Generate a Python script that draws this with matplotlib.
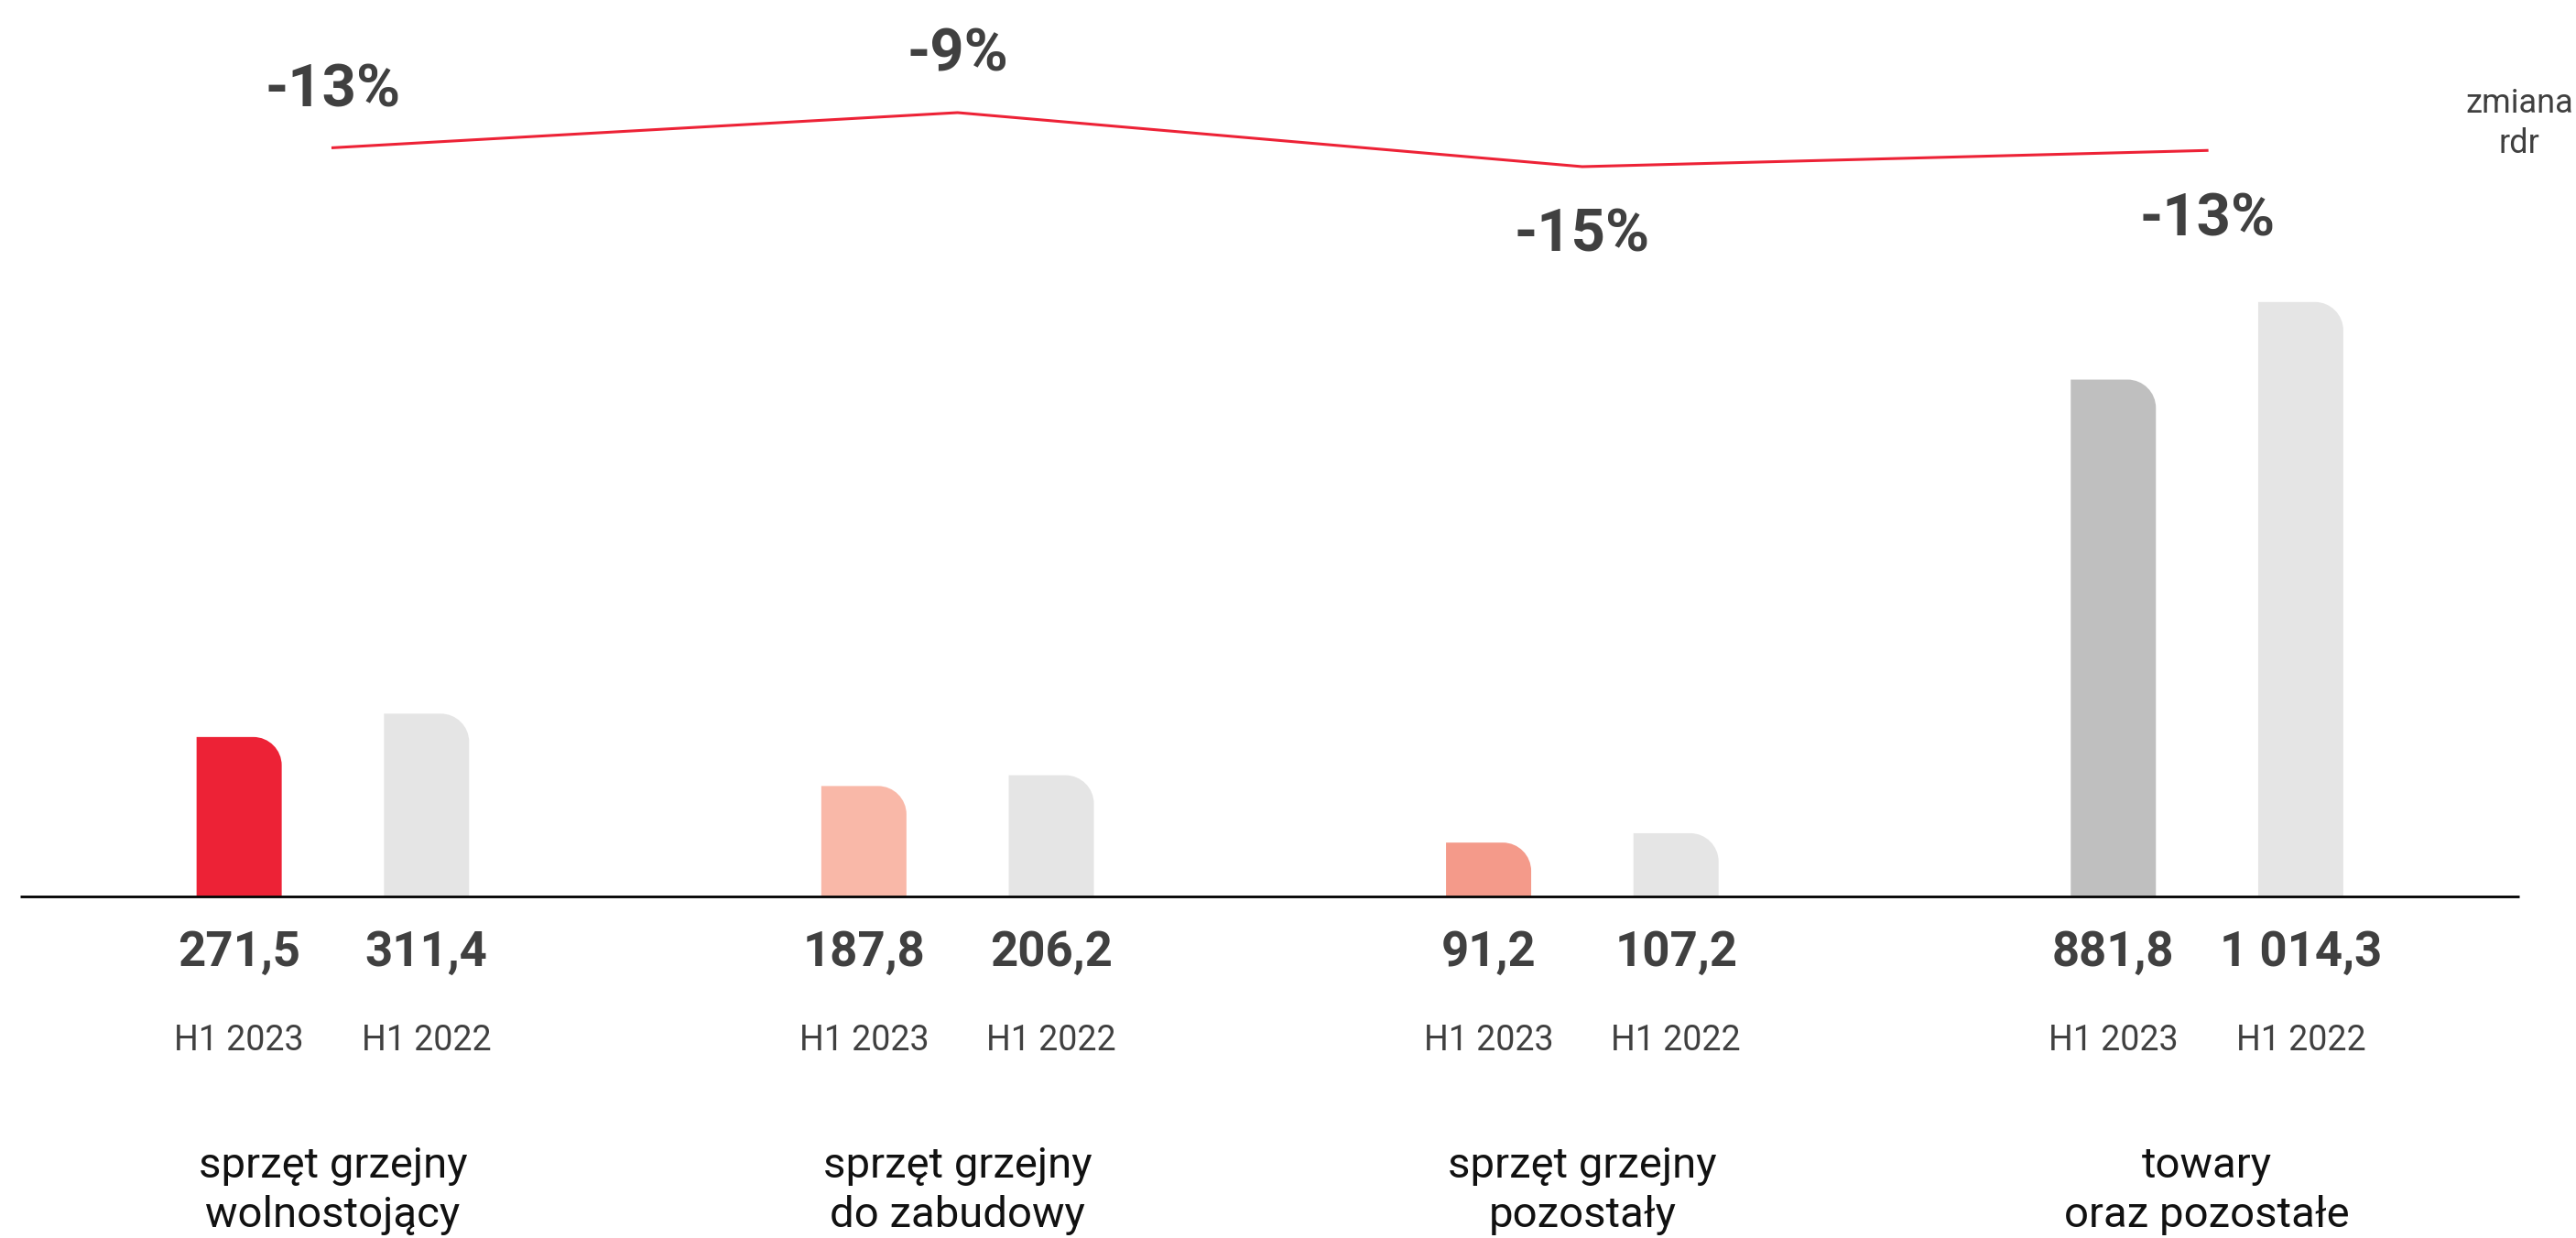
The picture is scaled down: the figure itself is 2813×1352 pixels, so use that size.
import matplotlib
matplotlib.use("Agg")
import matplotlib.pyplot as plt
import numpy as np
from matplotlib.path import Path
from matplotlib.patches import PathPatch

categories = ["sprzęt grzejny\nwolnostojący", "sprzęt grzejny\ndo zabudowy",
              "sprzęt grzejny\npozostały", "towary\noraz pozostałe"]
periods = ["H1 2023", "H1 2022"]
values_2023 = [271.5, 187.8, 91.2, 881.8]
values_2022 = [311.4, 206.2, 107.2, 1014.3]
labels_2023 = ["271,5", "187,8", "91,2", "881,8"]
labels_2022 = ["311,4", "206,2", "107,2", "1 014,3"]
change_yoy = [-12.8, -8.9, -14.9, -13.1]
change_labels = ["-13%", "-9%", "-15%", "-13%"]

colors_2023 = ["#ED2236", "#F9B8A8", "#F49A8A", "#BFBFBF"]
color_2022 = "#E5E5E5"
text_color = "#404040"

plt.rcParams['font.family'] = ['Roboto', 'DejaVu Sans']


def round_top_right(ax, rect, color, r_px=31):
    # swap a plain bar for one with only the top-right corner rounded
    x0, y0 = rect.get_x(), rect.get_y()
    x1, y1 = x0 + rect.get_width(), y0 + rect.get_height()
    (px0, py0), (px1, py1) = ax.transData.transform([(0, 0), (1, 1)])
    rx = r_px / (px1 - px0)
    ry = r_px / (py1 - py0)
    k = 0.5523
    verts = [(x0, y0), (x0, y1), (x1 - rx, y1),
             (x1 - rx + k * rx, y1), (x1, y1 - ry + k * ry), (x1, y1 - ry),
             (x1, y0), (x0, y0)]
    codes = [Path.MOVETO, Path.LINETO, Path.LINETO,
             Path.CURVE4, Path.CURVE4, Path.CURVE4,
             Path.LINETO, Path.CLOSEPOLY]
    rect.set_visible(False)
    ax.add_patch(PathPatch(Path(verts, codes), facecolor=color,
                           edgecolor='none', zorder=2))


fig = plt.figure(figsize=(28.13, 13.52), dpi=100)
ax = fig.add_axes([0, 0, 1, 1])
ax.set_xlim(-0.5328, 3.5906)
ax.set_ylim(-584, 1530)
ax.axis('off')

x = np.arange(len(categories))
off = 0.15
w = 0.1363

bars_a = ax.bar(x - off, values_2023, width=w)
bars_b = ax.bar(x + off, values_2022, width=w)
for rect, c in zip(bars_a, colors_2023):
    round_top_right(ax, rect, c)
for rect in bars_b:
    round_top_right(ax, rect, color_2022)

ax.hlines(0, -0.5, 3.5, color='black', lw=2, zorder=3)

trans = ax.get_xaxis_transform()
for i in range(len(categories)):
    for dx, lbl, per in [(-off, labels_2023[i], periods[0]),
                         (off, labels_2022[i], periods[1])]:
        ax.text(i + dx, 0.2197, lbl, transform=trans, ha='center',
                va='baseline', fontsize=38, fontweight='bold',
                color=text_color)
        ax.text(i + dx, 0.1516, per, transform=trans, ha='center',
                va='baseline', fontsize=27, color=text_color)
    ax.text(i, 0.0385, categories[i], transform=trans, ha='center',
            va='center', fontsize=34, color='#111111', linespacing=1.3)

ax.text(3.5, 0.900, "zmiana\nrdr", transform=trans, ha='center',
        va='center', fontsize=26, color=text_color, linespacing=1.3)

# year-over-year change line on its own scale
ax2 = ax.twinx()
ax2.set_ylim(-133.9, 3.61)
ax2.axis('off')
ax2.plot(x, change_yoy, color='#ED2236', lw=2.2)
for i, (v, lbl) in enumerate(zip(change_yoy, change_labels)):
    dy = 45 if i < 2 else -93
    ax2.annotate(lbl, (i, v), xytext=(0, dy), textcoords='offset pixels',
                 ha='center', va='baseline', fontsize=47,
                 fontweight='bold', color=text_color)

fig.savefig("out.png", dpi=100)
